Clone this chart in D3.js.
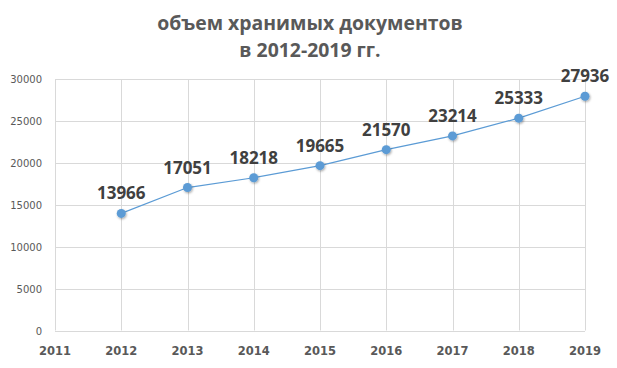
<!DOCTYPE html>
<html>
<head>
<meta charset="utf-8">
<script src="https://cdn.jsdelivr.net/npm/d3@7"></script>
<style>
  body { margin: 0; background: #fff; }
  svg { display: block; }
</style>
</head>
<body>
<svg id="chart" width="617" height="368"></svg>
<script>
const titleLines = ["объем хранимых документов", "в 2012-2019 гг."];
const years = [2012, 2013, 2014, 2015, 2016, 2017, 2018, 2019];
const values = [13966, 17051, 18218, 19665, 21570, 23214, 25333, 27936];
const xTicks = [2011, 2012, 2013, 2014, 2015, 2016, 2017, 2018, 2019];
const yTicks = [0, 5000, 10000, 15000, 20000, 25000, 30000];

const svg = d3.select("#chart");

// области графика
const x = d3.scaleLinear().domain([2011, 2019]).range([55, 585]);
const y = d3.scaleLinear().domain([0, 30000]).range([330.5, 79]);

// тень для маркеров
const defs = svg.append("defs");
const f = defs.append("filter").attr("id", "sh").attr("x", "-50%").attr("y", "-50%").attr("width", "200%").attr("height", "200%");
f.append("feDropShadow").attr("dx", 0.8).attr("dy", 1.2).attr("stdDeviation", 1).attr("flood-color", "#000").attr("flood-opacity", 0.35);

// заголовок
svg.append("g").selectAll("text")
  .data(titleLines)
  .join("text")
  .attr("x", 310)
  .attr("y", (d, i) => 29.5 + i * 27.5)
  .attr("text-anchor", "middle")
  .attr("font-family", "'Open Sans', sans-serif")
  .attr("font-weight", "bold")
  .attr("font-size", 19.4)
  .attr("fill", "#595959")
  .text(d => d);

// сетка
const grid = svg.append("g").attr("stroke", "#d9d9d9").attr("stroke-width", 1);
grid.selectAll(".h")
  .data(yTicks)
  .join("line")
  .attr("x1", 55).attr("x2", 585)
  .attr("y1", d => Math.round(y(d)) + 0.5)
  .attr("y2", d => Math.round(y(d)) + 0.5);
grid.selectAll(".v")
  .data(xTicks)
  .join("line")
  .attr("x1", d => Math.round(x(d)) + 0.5)
  .attr("x2", d => Math.round(x(d)) + 0.5)
  .attr("y1", y(30000)).attr("y2", y(0));

// подписи оси Y
svg.append("g").selectAll("text")
  .data(yTicks)
  .join("text")
  .attr("x", 42)
  .attr("y", d => y(d) + 4)
  .attr("text-anchor", "end")
  .attr("font-family", "'DejaVu Sans', Verdana, sans-serif")
  .attr("font-size", 10)
  .attr("fill", "#595959")
  .text(d => d);

// подписи оси X
svg.append("g").selectAll("text")
  .data(xTicks)
  .join("text")
  .attr("x", d => x(d))
  .attr("y", 355)
  .attr("text-anchor", "middle")
  .attr("font-family", "'DejaVu Sans', Verdana, sans-serif")
  .attr("font-weight", "bold")
  .attr("font-size", 11.5)
  .attr("fill", "#595959")
  .text(d => d);

const data = years.map((yr, i) => ({ year: yr, value: values[i] }));

// линия
svg.append("path")
  .datum(data)
  .attr("d", d3.line().x(d => x(d.year)).y(d => y(d.value)))
  .attr("fill", "none")
  .attr("stroke", "#5b9bd5")
  .attr("stroke-width", 1.2);

// маркеры
svg.append("g").selectAll("circle")
  .data(data)
  .join("circle")
  .attr("cx", d => x(d.year))
  .attr("cy", d => y(d.value))
  .attr("r", 4.5)
  .attr("fill", "#5b9bd5")
  .attr("filter", "url(#sh)");

// подписи значений
svg.append("g").selectAll("text")
  .data(data)
  .join("text")
  .attr("x", d => x(d.year))
  .attr("y", d => y(d.value) - 14)
  .attr("text-anchor", "middle")
  .attr("font-family", "'Open Sans', sans-serif")
  .attr("font-weight", "bold")
  .attr("font-size", 17)
  .attr("fill", "#404040")
  .text(d => d.value);
</script>
</body>
</html>
